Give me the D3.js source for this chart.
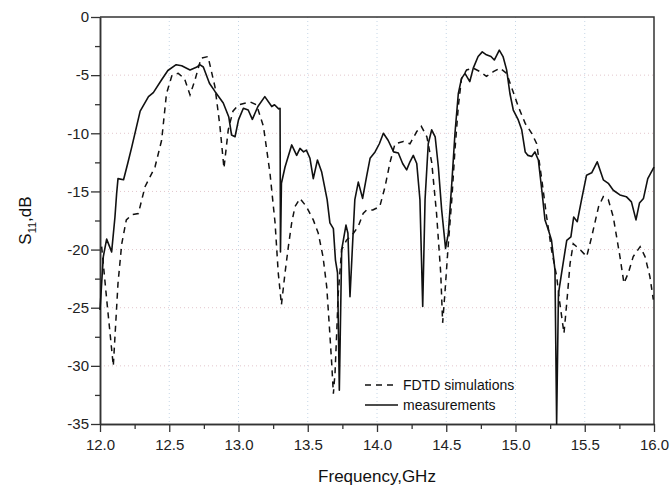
<!DOCTYPE html>
<html>
<head>
<meta charset="utf-8">
<script src="https://cdn.jsdelivr.net/npm/d3@7"></script>
<style>
  body { margin: 0; background: #fff; }
  svg { font-family: "Liberation Sans", Arial, sans-serif; }
</style>
</head>
<body>
<div id="chart"></div>
<script>
// measured S11 (solid)
var measFreq = [12.0, 12.024, 12.048, 12.084, 12.108, 12.12, 12.13, 12.17, 12.20, 12.23, 12.29, 12.35, 12.385, 12.445, 12.49, 12.55, 12.59, 12.65, 12.70, 12.72, 12.746, 12.79, 12.83, 12.89, 12.93, 12.95, 12.975, 13.0, 13.035, 13.07, 13.10, 13.14, 13.19, 13.24, 13.26, 13.29, 13.30, 13.303, 13.31, 13.336, 13.384, 13.42, 13.444, 13.47, 13.49, 13.516, 13.54, 13.57, 13.60, 13.64, 13.66, 13.685, 13.70, 13.715, 13.728, 13.745, 13.776, 13.79, 13.805, 13.825, 13.84, 13.865, 13.896, 13.925, 13.95, 13.986, 14.017, 14.046, 14.08, 14.12, 14.154, 14.185, 14.214, 14.238, 14.262, 14.287, 14.31, 14.33, 14.347, 14.37, 14.395, 14.42, 14.443, 14.467, 14.495, 14.515, 14.54, 14.563, 14.587, 14.61, 14.635, 14.67, 14.695, 14.73, 14.76, 14.79, 14.823, 14.847, 14.883, 14.91, 14.936, 14.96, 14.984, 15.02, 15.045, 15.07, 15.09, 15.117, 15.14, 15.165, 15.19, 15.213, 15.237, 15.26, 15.285, 15.297, 15.31, 15.333, 15.37, 15.40, 15.42, 15.446, 15.477, 15.513, 15.55, 15.59, 15.634, 15.67, 15.706, 15.754, 15.80, 15.837, 15.87, 15.895, 15.924, 15.955, 16.0];
var measDb = [-25.2, -20.6, -19.1, -20.2, -17.2, -15.2, -13.9, -14.0, -12.6, -11.15, -8.1, -6.85, -6.5, -5.4, -4.6, -4.1, -4.2, -4.55, -4.3, -4.1, -4.3, -5.7, -6.4, -7.4, -8.6, -10.15, -10.3, -8.85, -7.85, -8.0, -8.8, -7.7, -6.85, -7.7, -7.55, -7.9, -7.85, -20.2, -14.3, -12.9, -11.0, -11.9, -11.3, -11.6, -11.45, -12.15, -13.9, -12.3, -13.3, -15.7, -17.7, -18.2, -20.9, -22.0, -32.1, -20.0, -17.9, -18.6, -24.05, -19.2, -15.7, -14.2, -15.6, -13.7, -12.15, -11.6, -10.9, -10.0, -10.6, -11.6, -11.7, -12.6, -13.15, -12.45, -11.9, -12.6, -15.7, -24.9, -15.7, -10.9, -9.7, -10.3, -12.9, -16.6, -19.9, -18.6, -14.3, -10.0, -6.6, -5.3, -4.85, -5.55, -4.4, -3.4, -3.0, -3.25, -3.4, -3.7, -2.85, -3.4, -4.55, -6.6, -8.0, -8.85, -9.7, -11.6, -11.9, -12.0, -11.6, -12.3, -14.9, -17.45, -18.3, -19.2, -21.75, -35, -23.8, -22.0, -19.2, -18.9, -17.2, -17.6, -15.7, -13.6, -13.4, -12.45, -14.0, -14.3, -14.9, -15.3, -15.45, -15.9, -17.45, -16.0, -15.6, -13.9, -12.9];

// FDTD simulation (dashed)
var simFreq = [12.012, 12.05, 12.096, 12.13, 12.157, 12.19, 12.23, 12.277, 12.325, 12.397, 12.445, 12.48, 12.52, 12.565, 12.61, 12.65, 12.686, 12.73, 12.78, 12.83, 12.866, 12.895, 12.926, 12.96, 13.0, 13.083, 13.13, 13.18, 13.227, 13.264, 13.287, 13.31, 13.336, 13.36, 13.384, 13.408, 13.444, 13.49, 13.54, 13.576, 13.61, 13.637, 13.656, 13.673, 13.685, 13.697, 13.709, 13.72, 13.745, 13.78, 13.83, 13.865, 13.90, 13.925, 13.97, 14.02, 14.058, 14.094, 14.13, 14.19, 14.238, 14.287, 14.32, 14.36, 14.395, 14.43, 14.46, 14.474, 14.49, 14.515, 14.54, 14.563, 14.587, 14.61, 14.647, 14.695, 14.744, 14.79, 14.84, 14.888, 14.936, 14.97, 15.02, 15.07, 15.117, 15.153, 15.19, 15.225, 15.26, 15.297, 15.32, 15.35, 15.37, 15.394, 15.417, 15.466, 15.514, 15.55, 15.60, 15.634, 15.67, 15.706, 15.754, 15.783, 15.815, 15.85, 15.90, 15.935, 15.97, 15.995];
var simDb = [-19.75, -24.5, -30.0, -22.9, -19.5, -17.45, -17.0, -16.9, -14.6, -12.9, -10.6, -6.6, -5.0, -4.85, -5.3, -6.7, -5.4, -3.55, -3.4, -6.0, -9.4, -13.0, -9.7, -8.1, -7.55, -7.3, -7.55, -9.4, -13.4, -17.7, -22.0, -24.75, -22.0, -19.75, -17.7, -16.3, -15.6, -16.3, -17.45, -18.6, -20.6, -23.2, -26.6, -29.8, -32.4, -30.6, -27.2, -23.8, -20.0, -19.2, -18.6, -18.0, -16.9, -16.6, -16.6, -16.3, -14.6, -12.5, -10.9, -10.7, -10.9, -9.85, -9.4, -10.3, -12.5, -16.9, -22.0, -26.3, -23.8, -19.5, -15.7, -11.4, -7.7, -5.3, -4.55, -4.4, -4.7, -5.1, -4.7, -4.4, -4.85, -6.0, -7.7, -9.15, -10.0, -10.9, -14.0, -17.2, -20.0, -22.3, -24.6, -27.2, -24.6, -21.2, -19.5, -20.0, -20.6, -18.9, -16.3, -15.45, -15.7, -17.2, -20.6, -22.9, -22.0, -20.6, -19.75, -20.6, -22.3, -24.3];

var xTicks = [12.0, 12.5, 13.0, 13.5, 14.0, 14.5, 15.0, 15.5, 16.0];
var yTicks = [0, -5, -10, -15, -20, -25, -30, -35];
var legendLabels = ["FDTD simulations", "measurements"];

var w = 672, h = 491;
var margin = { top: 17, right: 18, bottom: 67, left: 100 };
var width = w - margin.left - margin.right,
    height = h - margin.top - margin.bottom;

var svg = d3.select("#chart").append("svg")
    .attr("width", w)
    .attr("height", h);

var g = svg.append("g")
    .attr("transform", "translate(" + margin.left + "," + margin.top + ")");

var x = d3.scaleLinear().domain([12, 16]).range([0, width]);
var y = d3.scaleLinear().domain([-35, 0]).range([height, 0]);

// dotted grid
g.append("g").selectAll("line")
    .data(yTicks.slice(1, -1))
    .enter().append("line")
    .attr("x1", 0).attr("x2", width)
    .attr("y1", function (d) { return y(d); })
    .attr("y2", function (d) { return y(d); })
    .attr("stroke", "#e2c6cc")
    .attr("stroke-width", 1)
    .attr("stroke-dasharray", "1,3");

g.append("g").selectAll("line")
    .data(xTicks.slice(1, -1))
    .enter().append("line")
    .attr("y1", 0).attr("y2", height)
    .attr("x1", function (d) { return x(d); })
    .attr("x2", function (d) { return x(d); })
    .attr("stroke", "#c6d6e6")
    .attr("stroke-width", 1)
    .attr("stroke-dasharray", "1,3");

// frame (top + right)
g.append("path")
    .attr("d", "M0,0H" + width + "V" + height)
    .attr("fill", "none")
    .attr("stroke", "#333")
    .attr("stroke-width", 1.5);

// axes: major + minor ticks
var minorX = d3.range(12.25, 16, 0.5);
var minorY = d3.range(-32.5, 0, 5);

var xAxis = g.append("g")
    .attr("transform", "translate(0," + height + ")")
    .call(d3.axisBottom(x).tickValues(xTicks).tickFormat(d3.format(".1f")).tickSize(8).tickSizeOuter(0));
g.append("g")
    .attr("transform", "translate(0," + height + ")")
    .call(d3.axisBottom(x).tickValues(minorX).tickFormat("").tickSize(5).tickSizeOuter(0));

var yAxis = g.append("g")
    .call(d3.axisLeft(y).tickValues(yTicks).tickFormat(function (d) { return String(d); }).tickSize(9).tickSizeOuter(0));
g.append("g")
    .call(d3.axisLeft(y).tickValues(minorY).tickFormat("").tickSize(5).tickSizeOuter(0));

g.selectAll(".domain").attr("stroke", "#333").attr("stroke-width", 1.5);
g.selectAll(".tick line").attr("stroke", "#333").attr("stroke-width", 1.3);
g.selectAll(".tick text")
    .attr("fill", "#222")
    .style("font-size", "15px")
    .style("font-family", "Liberation Sans, Arial, sans-serif");
xAxis.selectAll(".tick text").attr("dy", "1.0em");
yAxis.selectAll(".tick text").attr("x", -11);

// curves
var line = d3.line()
    .x(function (d) { return x(d[0]); })
    .y(function (d) { return y(d[1]); });

var simData = d3.zip(simFreq, simDb);
var measData = d3.zip(measFreq, measDb);

g.append("path")
    .datum(simData)
    .attr("d", line)
    .attr("fill", "none")
    .attr("stroke", "#111")
    .attr("stroke-width", 1.5)
    .attr("stroke-dasharray", "6,5");

g.append("path")
    .datum(measData)
    .attr("d", line)
    .attr("fill", "none")
    .attr("stroke", "#111")
    .attr("stroke-width", 1.6)
    .attr("stroke-linejoin", "round");

// legend
var legend = g.append("g").attr("transform", "translate(265,368)");
legend.selectAll("line")
    .data(legendLabels)
    .enter().append("line")
    .attr("x1", 0).attr("x2", 33)
    .attr("y1", function (d, i) { return i * 20; })
    .attr("y2", function (d, i) { return i * 20; })
    .attr("stroke", "#111")
    .attr("stroke-width", 1.4)
    .attr("stroke-dasharray", function (d, i) { return i === 0 ? "6,5" : null; });
legend.selectAll("text")
    .data(legendLabels)
    .enter().append("text")
    .attr("x", 38)
    .attr("y", function (d, i) { return i * 20; })
    .attr("dy", "0.35em")
    .style("font-size", "14px")
    .attr("fill", "#111")
    .text(function (d) { return d; });

// axis titles
svg.append("text")
    .attr("x", margin.left + width / 2)
    .attr("y", 482)
    .attr("text-anchor", "middle")
    .style("font-size", "17px")
    .attr("fill", "#111")
    .text("Frequency,GHz");

var yt = svg.append("text")
    .attr("transform", "translate(31," + (margin.top + height / 2) + ") rotate(-90)")
    .attr("text-anchor", "middle")
    .style("font-size", "17px")
    .attr("fill", "#111");
yt.append("tspan").text("S");
yt.append("tspan").attr("dy", 5).style("font-size", "11px").text("11");
yt.append("tspan").attr("dy", -5).text(",dB");
</script>
</body>
</html>
